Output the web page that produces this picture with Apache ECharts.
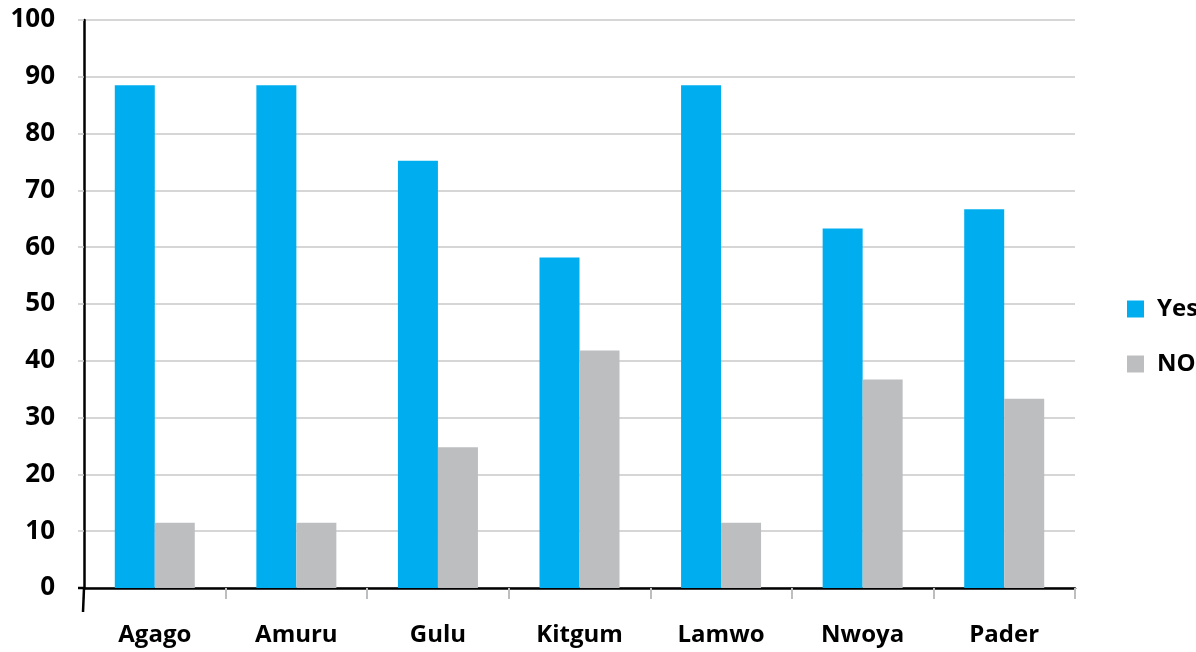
<!DOCTYPE html>
<html>
<head>
<meta charset="utf-8">
<script src="https://cdn.jsdelivr.net/npm/echarts@6/dist/echarts.min.js"></script>
<style>
  html, body { margin: 0; padding: 0; background: #fff; }
  #chart { width: 1196px; height: 652px; }
</style>
</head>
<body>
<div id="chart"></div>
<script>
const categories = ['Agago', 'Amuru', 'Gulu', 'Kitgum', 'Lamwo', 'Nwoya', 'Pader'];
const yesValues = [88.5, 88.5, 75.2, 58.2, 88.5, 63.3, 66.7];
const noValues = [11.5, 11.5, 24.8, 41.8, 11.5, 36.7, 33.3];
const seriesNames = ['Yes', 'NO'];
const yTicks = { min: 0, max: 100, interval: 10 };

const FONT = '"Open Sans", "Noto Sans", sans-serif';
const chart = echarts.init(document.getElementById('chart'), null, { renderer: 'canvas' });

const option = {
  animation: false,
  backgroundColor: '#ffffff',
  grid: { left: 84, right: 121, top: 20, bottom: 64, containLabel: false },
  legend: {
    orient: 'vertical',
    left: 1122,
    top: 292,
    itemWidth: 17,
    itemHeight: 17,
    itemGap: 31,
    icon: 'rect',
    data: seriesNames,
    textStyle: {
      fontFamily: FONT, fontWeight: 'bold', fontSize: 24, color: '#000',
      lineHeight: 24, padding: [0, 0, 0, 8]
    }
  },
  xAxis: {
    type: 'category',
    data: categories,
    boundaryGap: true,
    axisLine: { show: true, lineStyle: { color: '#000', width: 2.5 } },
    axisTick: { show: true, length: 11, lineStyle: { color: '#BCBEC0', width: 2 } },
    axisLabel: {
      fontFamily: FONT, fontWeight: 'bold', fontSize: 24, color: '#000', margin: 35
    },
    splitLine: { show: false }
  },
  yAxis: {
    type: 'value',
    min: yTicks.min,
    max: yTicks.max,
    interval: yTicks.interval,
    axisLine: { show: true, lineStyle: { color: '#000', width: 2.5 } },
    axisTick: { show: true, length: 6, lineStyle: { color: '#C8C8C8', width: 1.5 } },
    axisLabel: {
      fontFamily: FONT, fontWeight: 'bold', fontSize: 26, color: '#000', margin: 29
    },
    splitLine: { show: true, lineStyle: { color: '#C8C8C8', width: 1.5 } }
  },
  series: [
    {
      name: seriesNames[0], type: 'bar', data: yesValues,
      itemStyle: { color: '#00AEEF' },
      barWidth: 40, barGap: '0%'
    },
    {
      name: seriesNames[1], type: 'bar', data: noValues,
      itemStyle: { color: '#BCBEC0' },
      barWidth: 40, barGap: '0%'
    }
  ]
};
chart.setOption(option);

// Extend the y-axis line a little below the baseline, as in the reference.
const y0 = chart.convertToPixel({ yAxisIndex: 0 }, 0);
const x0 = chart.convertToPixel({ xAxisIndex: 0 }, 0) - (chart.convertToPixel({ xAxisIndex: 0 }, 1) - chart.convertToPixel({ xAxisIndex: 0 }, 0)) / 2;
chart.setOption({
  graphic: [
    { type: 'line', shape: { x1: x0, y1: y0, x2: x0 - 1, y2: y0 + 24 }, style: { stroke: '#000', lineWidth: 2.5 }, z: 10 },
    { type: 'line', shape: { x1: x0 - 6, y1: y0, x2: x0, y2: y0 }, style: { stroke: '#000', lineWidth: 2.5 }, z: 10 }
  ]
});
</script>
</body>
</html>
